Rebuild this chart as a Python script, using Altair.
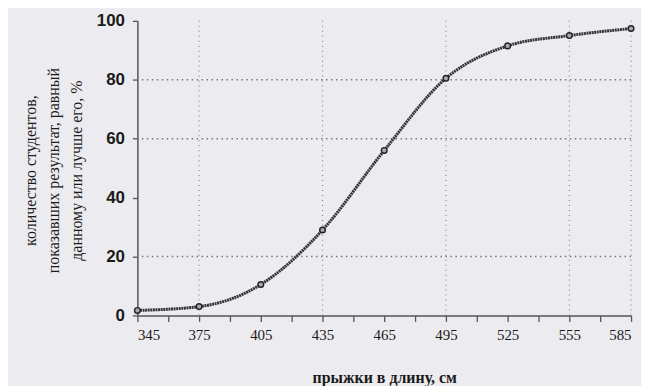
import altair as alt
import pandas as pd

# data
jump_cm = [345, 375, 405, 435, 465, 495, 525, 555, 585]
pct_at_or_better = [1.7, 3.0, 10.5, 29.0, 56.0, 80.5, 91.5, 95.0, 97.4]
x_tick_values = list(range(345, 586, 15))
y_tick_values = [0, 20, 40, 60, 80, 100]
x_grid_values = [375, 435, 495, 555, 585]
y_grid_values = [20, 60, 80]

df = pd.DataFrame({"x": jump_cm, "y": pct_at_or_better})
gx = pd.DataFrame({"x": x_grid_values})
gy = pd.DataFrame({"y": y_grid_values})

xscale = alt.Scale(domain=[345, 585], nice=False, zero=False)
yscale = alt.Scale(domain=[0, 100], nice=False)

x_axis = alt.Axis(
    values=x_tick_values,
    labelExpr="datum.value % 30 == 15 ? datum.label : ''",
    grid=False,
    domainColor="#555555",
    domainWidth=1.5,
    tickColor="#555555",
    tickWidth=1.3,
    tickSize=6,
    labelPadding=6,
    labelFont="Liberation Serif",
    labelFontSize=15,
    labelColor="#1a1a1a",
    title="прыжки в длину, см",
    titleFont="Liberation Serif",
    titleFontSize=16,
    titleFontWeight="bold",
    titleColor="#1a1a1a",
    titleY=62,
    titleBaseline="middle",
)

y_axis = alt.Axis(
    values=y_tick_values,
    grid=False,
    domainColor="#555555",
    domainWidth=1.5,
    tickColor="#555555",
    tickWidth=1.3,
    tickSize=5,
    labelPadding=8,
    labelFont="Liberation Sans",
    labelFontSize=17,
    labelFontWeight="bold",
    labelColor="#1a1a1a",
    title=["количество студентов,", "показавших результат, равный", "данному или лучше его, %"],
    titleFont="Liberation Serif",
    titleFontSize=16,
    titleFontWeight="normal",
    titleColor="#1a1a1a",
    titleLineHeight=23,
    titleAngle=-90,
    titleAlign="center",
    titleBaseline="middle",
    titleX=-107,
    titleY=150,
)

vgrid = alt.Chart(gx).mark_rule(color="#888888", strokeDash=[1, 4], strokeWidth=1.2).encode(
    x=alt.X("x:Q", scale=xscale, axis=x_axis)
)
hgrid = alt.Chart(gy).mark_rule(color="#777777", strokeDash=[1.5, 3.5], strokeWidth=1.5).encode(
    y=alt.Y("y:Q", scale=yscale, axis=y_axis)
)

line = alt.Chart(df).mark_line(
    color="#333333", strokeWidth=3, interpolate="monotone", strokeDash=[2, 0.6]
).encode(
    x=alt.X("x:Q", scale=xscale, axis=x_axis),
    y=alt.Y("y:Q", scale=yscale, axis=y_axis),
)

points = alt.Chart(df).mark_point(
    shape="circle", filled=True, size=32, fill="#aaaaaa", stroke="#222222", strokeWidth=1.4, opacity=1
).encode(
    x=alt.X("x:Q", scale=xscale, axis=x_axis),
    y=alt.Y("y:Q", scale=yscale, axis=y_axis),
)

chart = alt.layer(hgrid, vgrid, line, points).properties(
    width=496,
    height=296,
    background="#ecebef",
    padding={"left": 130, "top": 12, "right": 10, "bottom": 70},
    autosize=alt.AutoSizeParams(type="none"),
).configure_view(stroke=None)

chart.save("out.html", embed_options={"renderer": "svg", "actions": False})
